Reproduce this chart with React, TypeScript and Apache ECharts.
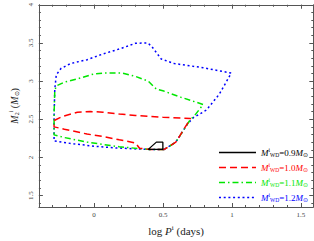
import React, { useEffect, useRef } from "react";
import * as echarts from "echarts";

// Tick values
const xMajorTicks = [0, 0.5, 1, 1.5];
const xMinorTicks = [-0.4, -0.3, -0.2, -0.1, 0, 0.1, 0.2, 0.3, 0.4, 0.5, 0.6, 0.7, 0.8, 0.9, 1.0, 1.1, 1.2, 1.3, 1.4, 1.5];
const yMajorTicks = [1.5, 2, 2.5, 3, 3.5, 4];
const yMinorTicks = [1.4, 1.5, 1.6, 1.7, 1.8, 1.9, 2.0, 2.1, 2.2, 2.3, 2.4, 2.5, 2.6, 2.7, 2.8, 2.9, 3.0, 3.1, 3.2, 3.3, 3.4, 3.5, 3.6, 3.7, 3.8, 3.9, 4.0];

// Series: log P^i (days), M2^i (Msun)
const wd09: [number, number][] = [
  [0.393, 2.105], [0.452, 2.2], [0.499, 2.2], [0.499, 2.105], [0.393, 2.105],
];
const wd10: [number, number][] = [
  [0.51, 2.105], [0.4, 2.105], [0.33, 2.12], [0.3, 2.19], [0.183, 2.23], [0.066, 2.273],
  [-0.051, 2.306], [-0.215, 2.369], [-0.29, 2.4], [-0.29, 2.482], [-0.227, 2.538],
  [-0.121, 2.592], [-0.028, 2.601], [0.066, 2.592], [0.183, 2.567], [0.3, 2.55],
  [0.499, 2.525], [0.7, 2.51], [0.593, 2.2], [0.51, 2.105],
];
const wd11: [number, number][] = [
  [0.51, 2.105], [0.393, 2.105], [0.183, 2.139], [-0.051, 2.2], [-0.215, 2.26],
  [-0.29, 2.295], [-0.29, 2.56], [-0.285, 2.87], [-0.274, 2.936], [-0.215, 2.986],
  [-0.121, 3.029], [-0.004, 3.092], [0.066, 3.105], [0.206, 3.105], [0.3, 3.062],
  [0.393, 2.999], [0.452, 2.894], [0.499, 2.873], [0.628, 2.79], [0.791, 2.693],
  [0.73, 2.55], [0.7, 2.5], [0.593, 2.2], [0.51, 2.105],
];
const wd12: [number, number][] = [
  [0.51, 2.105], [0.4, 2.105], [0.32, 2.11], [0.15, 2.125], [0.0, 2.147],
  [-0.15, 2.178], [-0.29, 2.215], [-0.29, 2.52], [-0.285, 2.89], [-0.274, 3.08],
  [-0.24, 3.165], [-0.17, 3.23], [-0.05, 3.28], [0.066, 3.356], [0.183, 3.42],
  [0.3, 3.495], [0.39, 3.5], [0.42, 3.45], [0.487, 3.29], [0.581, 3.23],
  [0.791, 3.175], [0.995, 3.105], [0.909, 2.83], [0.815, 2.62], [0.72, 2.52],
  [0.674, 2.43], [0.593, 2.2], [0.51, 2.105],
];

const seriesNames = ["0.9", "1.0", "1.1", "1.2"];
const seriesColors = ["#000000", "#ff0000", "#00e600", "#0000ff"];

const FONT = "Liberation Serif";
const AXIS_COLOR = "#555555";

export default function App() {
  const ref = useRef<HTMLDivElement>(null);
  useEffect(() => {
    if (!ref.current) return;
    const chart = echarts.init(ref.current, undefined, { renderer: "svg" });
    const xRange = { min: -0.4, max: 1.59 };
    const yRange = { min: 1.35, max: 4.0 };
    const mkX = (position: string, major: boolean, labels: boolean) => ({
      type: "value",
      ...xRange,
      position,
      axisLine: { show: major, onZero: false, lineStyle: { color: AXIS_COLOR, width: 1 } },
      axisTick: {
        show: true,
        inside: true,
        length: major ? 4 : 2,
        customValues: major ? xMajorTicks : xMinorTicks,
        lineStyle: { color: AXIS_COLOR },
      },
      axisLabel: {
        show: labels,
        customValues: xMajorTicks,
        fontSize: 7,
        fontFamily: FONT,
        color: "#444",
        margin: 4,
      },
      splitLine: { show: false },
    });
    const mkY = (position: string, major: boolean, labels: boolean) => ({
      type: "value",
      ...yRange,
      position,
      axisLine: { show: major, onZero: false, lineStyle: { color: AXIS_COLOR, width: 1 } },
      axisTick: {
        show: true,
        inside: true,
        length: major ? 4 : 2,
        customValues: major ? yMajorTicks : yMinorTicks,
        lineStyle: { color: AXIS_COLOR },
      },
      axisLabel: {
        show: labels,
        customValues: yMajorTicks,
        fontSize: 7,
        fontFamily: FONT,
        color: "#444",
        rotate: 90,
        margin: 4,
      },
      splitLine: { show: false },
    });
    const xMain: any = mkX("bottom", true, true);
    xMain.name = "{n|log }{it|P}{sup|i}{n| (days)}";
    xMain.nameLocation = "middle";
    xMain.nameGap = 17;
    xMain.nameTextStyle = {
      fontFamily: FONT,
      color: "#222",
      rich: {
        n: { fontSize: 11, fontFamily: FONT, color: "#222", lineHeight: 13, verticalAlign: "middle" },
        it: { fontSize: 11, fontFamily: FONT, fontStyle: "italic", color: "#222", lineHeight: 13, verticalAlign: "middle" },
        sup: { fontSize: 7, fontFamily: FONT, color: "#222", lineHeight: 13, verticalAlign: "top" },
      },
    };
    const yMain: any = mkY("left", true, true);
    yMain.name = "{it|M}{sub|2}{sup|i}{n| (}{it|M}{sub|⊙}{n|)}";
    yMain.nameLocation = "middle";
    yMain.nameRotate = 90;
    yMain.nameGap = 17;
    yMain.nameTextStyle = {
      fontFamily: FONT,
      color: "#222",
      rich: {
        n: { fontSize: 10, fontFamily: FONT, color: "#222", lineHeight: 12, verticalAlign: "middle" },
        it: { fontSize: 10, fontFamily: FONT, fontStyle: "italic", color: "#222", lineHeight: 12, verticalAlign: "middle" },
        sup: { fontSize: 6, fontFamily: FONT, color: "#222", lineHeight: 12, verticalAlign: "top" },
        sub: { fontSize: 6, fontFamily: FONT, color: "#222", lineHeight: 12, verticalAlign: "bottom" },
      },
    };

    const dashes: any[] = ["solid", [7, 4], [6, 3, 1.5, 3], [2, 2.7]];
    const datas = [wd09, wd10, wd11, wd12];
    const series = seriesNames.map((name, i) => ({
      name,
      type: "line",
      data: datas[i],
      showSymbol: false,
      symbol: "none",
      xAxisIndex: 0,
      yAxisIndex: 0,
      z: 10 - i,
      lineStyle: { color: seriesColors[i], width: i === 0 ? 1.3 : 1.5, type: dashes[i], cap: "butt" },
      itemStyle: { color: seriesColors[i] },
    }));

    chart.setOption({
      animation: false,
      backgroundColor: "#ffffff",
      grid: { left: 30, right: 0.7, top: 2.5, bottom: 28.7, containLabel: false },
      xAxis: [xMain, mkX("bottom", false, false), mkX("top", true, false), mkX("top", false, false)],
      yAxis: [yMain, mkY("left", false, false), mkY("right", true, false), mkY("right", false, false)],
      legend: {
        orient: "vertical",
        right: 1,
        top: 142,
        itemWidth: 37,
        itemHeight: 10,
        itemGap: 4,
        itemStyle: { color: "rgba(0,0,0,0)", borderColor: "rgba(0,0,0,0)", borderWidth: 0, opacity: 0 },
        lineStyle: { width: 1.5 },
        data: seriesNames.map((n, i) => ({ name: n, textStyle: { color: seriesColors[i] } })),
        formatter: (name: string) => `{it|M}{sup|i}{sub|WD}{n|=${name}}{it|M}{sub|⊙}`,
        textStyle: {
          fontFamily: FONT,
          fontSize: 9,
          rich: {
            n: { fontSize: 9, fontFamily: FONT, lineHeight: 11, verticalAlign: "middle" },
            it: { fontSize: 9, fontFamily: FONT, fontStyle: "italic", lineHeight: 11, verticalAlign: "middle" },
            sup: { fontSize: 5.5, fontFamily: FONT, lineHeight: 11, verticalAlign: "top" },
            sub: { fontSize: 5.5, fontFamily: FONT, lineHeight: 11, verticalAlign: "bottom" },
          },
        },
      },
      series,
    });
    return () => chart.dispose();
  }, []);
  return <div ref={ref} style={{ position: "absolute", left: 0, top: 0, width: 314, height: 241 }} />;
}
